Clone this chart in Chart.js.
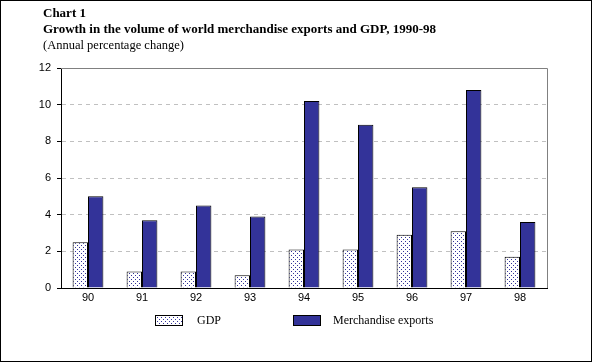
<!DOCTYPE html>
<html>
<head>
<meta charset="utf-8">
<script src="https://cdn.jsdelivr.net/npm/chart.js@4"></script>
<style>
  body { margin: 0; background: #fff; }
  #wrap { position: relative; width: 593px; height: 363px; overflow: hidden; }
  #frame { position: absolute; left: 0; top: 0; width: 590px; height: 360px; border: 1px solid #000; }
  .t { position: absolute; left: 43px; font-family: "Liberation Serif", "Times New Roman", serif; font-size: 12.5px; color: #000; white-space: nowrap; }
  .b { font-weight: bold; font-size: 13px; }
  .sw { position: absolute; width: 26px; height: 9px; border: 1px solid #000; }
  .lt { position: absolute; font-family: "Liberation Serif", "Times New Roman", serif; font-size: 12px; white-space: nowrap; }
</style>
</head>
<body>
<div id="wrap">
  <canvas id="chart" width="593" height="363"></canvas>
  <div id="frame"></div>
  <div class="t b" style="top:5px">Chart 1</div>
  <div class="t b" style="top:21px">Growth in the volume of world merchandise exports and GDP, 1990-98</div>
  <div class="t" style="top:38px">(Annual percentage change)</div>
  <div class="sw" id="swGdp" style="left:155px; top:315px"></div>
  <div class="lt" style="left:197px; top:313px">GDP</div>
  <div class="sw" style="left:293px; top:315px; background:#333399"></div>
  <div class="lt" style="left:333px; top:313px">Merchandise exports</div>
</div>
<script>
// data
const years = ["90", "91", "92", "93", "94", "95", "96", "97", "98"];
const gdpGrowth = [2.5, 0.9, 0.9, 0.7, 2.1, 2.1, 2.9, 3.1, 1.7];
const exportGrowth = [5.0, 3.7, 4.5, 3.9, 10.2, 8.9, 5.5, 10.8, 3.6];
const yTicks = [0, 2, 4, 6, 8, 10, 12];

// small dotted fill for the GDP bars
const tile = document.createElement("canvas");
tile.width = 4;
tile.height = 4;
const tc = tile.getContext("2d");
tc.fillStyle = "#ffffff";
tc.fillRect(0, 0, 4, 4);
tc.fillStyle = "#333399";
tc.fillRect(1, 1, 1, 1);
tc.fillRect(3, 3, 1, 1);
const ctx = document.getElementById("chart").getContext("2d");
const dots = ctx.createPattern(tile, "repeat");
document.getElementById("swGdp").style.backgroundImage = "url(" + tile.toDataURL() + ")";

// grey frame on the top and right of the plot area
const plotFrame = {
    id: "plotFrame",
    afterDatasetsDraw(chart) {
        const a = chart.chartArea;
        const c = chart.ctx;
        c.save();
        c.strokeStyle = "#808080";
        c.lineWidth = 1;
        c.beginPath();
        c.moveTo(a.left, a.top + 0.5);
        c.lineTo(a.right + 0.5, a.top + 0.5);
        c.lineTo(a.right + 0.5, a.bottom);
        c.stroke();
        c.restore();
    }
};

new Chart(ctx, {
    type: "bar",
    data: {
        labels: years,
        datasets: [{
            label: "GDP",
            data: gdpGrowth,
            backgroundColor: dots,
            borderColor: "#000",
            borderWidth: 1,
            categoryPercentage: 0.57,
            barPercentage: 1
        }, {
            label: "Merchandise exports",
            data: exportGrowth,
            backgroundColor: "#333399",
            borderColor: "#000",
            borderWidth: 1,
            categoryPercentage: 0.57,
            barPercentage: 1
        }]
    },
    options: {
        responsive: false,
        animation: false,
        layout: { padding: { left: 0, top: 68, right: 46, bottom: 55 } },
        plugins: {
            legend: { display: false },
            tooltip: { enabled: false }
        },
        scales: {
            x: {
                afterFit: s => { s.height = 20; },
                grid: { display: false, drawTicks: false },
                border: { color: "#000", width: 1 },
                ticks: {
                    padding: 3,
                    color: "#000",
                    font: { family: "Liberation Sans, Arial, sans-serif", size: 11 }
                }
            },
            y: {
                min: 0,
                max: 12,
                afterFit: s => { s.width = 61; },
                afterBuildTicks: s => { s.ticks = yTicks.map(v => ({ value: v })); },
                grid: {
                    color: c => (c.tick && c.tick.value === 0) ? "rgba(0,0,0,0)" : "#c0c0c0",
                    tickColor: "#000",
                    tickLength: 4,
                    lineWidth: 1
                },
                border: { color: "#000", width: 1, dash: [4, 4] },
                ticks: {
                    padding: 6,
                    color: "#000",
                    font: { family: "Liberation Sans, Arial, sans-serif", size: 11 }
                }
            }
        }
    },
    plugins: [plotFrame]
});
</script>
</body>
</html>
